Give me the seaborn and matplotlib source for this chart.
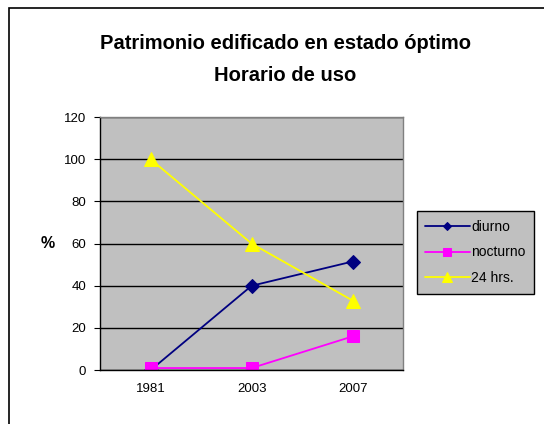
import matplotlib
matplotlib.use("Agg")
import matplotlib.pyplot as plt
import pandas as pd
import seaborn as sns
from matplotlib.patches import Rectangle

years = ["1981", "2003", "2007"]
diurno = [0, 40, 51.5]
nocturno = [1, 1, 16]
horas24 = [100, 60, 33]
series_names = ["diurno", "nocturno", "24 hrs."]

df = pd.DataFrame({
    "year": years * 3,
    "value": diurno + nocturno + horas24,
    "serie": [s for s in series_names for _ in years],
})

sns.set_style("white")
plt.rcParams["font.family"] = ["Liberation Sans", "DejaVu Sans"]
plt.rcParams["text.color"] = "black"
plt.rcParams["axes.labelcolor"] = "black"
plt.rcParams["xtick.color"] = "black"
plt.rcParams["ytick.color"] = "black"

fig = plt.figure(figsize=(5.44, 4.24), dpi=100)
ax = fig.add_axes([0.184, 0.127, 0.557, 0.597])

palette = {"diurno": "#000080", "nocturno": "#FF00FF", "24 hrs.": "#FFFF00"}
markers = {"diurno": "D", "nocturno": "s", "24 hrs.": "^"}
sizes = {"diurno": 7, "nocturno": 9, "24 hrs.": 10}

for name in series_names:
    sub = df[df["serie"] == name]
    sns.lineplot(data=sub, x="year", y="value", color=palette[name], marker=markers[name],
                 markersize=sizes[name], markeredgecolor=palette[name], linewidth=1.3,
                 label=name, ax=ax, sort=False)

ax.set_facecolor("#C0C0C0")
ax.set_xlim(-0.5, 2.5)
ax.set_ylim(0, 120)
ax.set_yticks(range(0, 121, 20))
ax.yaxis.grid(True, color="black", linewidth=1.0)
ax.set_axisbelow(True)

# excel-style category axis: ticks between categories, labels centred
ax.set_xticks([-0.5, 0.5, 1.5, 2.5])
ax.set_xticklabels([])
ax.set_xticks([0, 1, 2], minor=True)
ax.set_xticklabels(years, minor=True, fontsize=9.5)
ax.tick_params(axis="x", which="minor", length=0, pad=9)
ax.tick_params(axis="x", which="major", length=4, direction="out", color="black")
ax.tick_params(axis="y", labelsize=9.5, length=4, direction="out", color="black", left=True, pad=6)

for side in ["left", "bottom"]:
    ax.spines[side].set_color("black")
    ax.spines[side].set_linewidth(1.0)
for side in ["top", "right"]:
    ax.spines[side].set_color("#808080")
    ax.spines[side].set_linewidth(1.0)

ax.set_xlabel("")
ax.set_ylabel("%", rotation=0, fontsize=11.5, fontweight="bold", labelpad=12, va="center")

leg = ax.legend(loc="center left", bbox_to_anchor=(1.045, 0.465), frameon=True, fancybox=False,
                fontsize=10, handlelength=3.2, borderpad=0.6, labelspacing=0.85,
                handletextpad=0.1, borderaxespad=0, markerscale=0.65)
leg.get_frame().set_edgecolor("black")
leg.get_frame().set_facecolor("#C0C0C0")
leg.get_frame().set_alpha(1)
leg.get_frame().set_linewidth(1.0)

fig.text(0.525, 0.898, "Patrimonio edificado en estado óptimo", ha="center", va="center",
         fontsize=14.5, fontweight="bold")
fig.text(0.525, 0.822, "Horario de uso", ha="center", va="center",
         fontsize=14.5, fontweight="bold")

fig.patches.append(Rectangle((0.017, -0.01), 1.0, 0.99, transform=fig.transFigure,
                             fill=False, edgecolor="black", linewidth=1.2))

fig.savefig("out.png", dpi=100)
